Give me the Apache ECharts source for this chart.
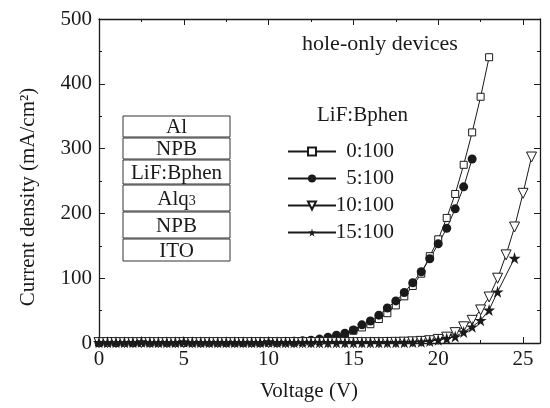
<!DOCTYPE html>
<html>
<head>
<meta charset="utf-8">
<script src="https://cdn.jsdelivr.net/npm/echarts@6/dist/echarts.min.js"></script>
<style>
html, body { margin: 0; padding: 0; background: #fff; }
#main { width: 550px; height: 408px; }
</style>
</head>
<body>
<div id="main"></div>
<script>
// voltage steps (V)
const voltage = [0, 0.5, 1, 1.5, 2, 2.5, 3, 3.5, 4, 4.5, 5, 5.5, 6, 6.5, 7, 7.5, 8, 8.5, 9, 9.5,
  10, 10.5, 11, 11.5, 12, 12.5, 13, 13.5, 14, 14.5, 15, 15.5, 16, 16.5, 17, 17.5, 18, 18.5, 19, 19.5,
  20, 20.5, 21, 21.5, 22, 22.5, 23, 23.5, 24, 24.5, 25, 25.5];

// current density (mA/cm2) per LiF:Bphen ratio
const j0 = [0.5, 0.5, 0.5, 0.5, 0.5, 0.5, 0.5, 0.5, 0.5, 0.5, 0.5, 0.5, 0.5, 0.5, 0.5, 0.5, 0.5, 0.5, 0.5, 0.5,
  0.6, 0.7, 0.9, 1.2, 1.6, 2.3, 3.3, 5, 8, 13, 19, 24, 29, 37, 46, 58, 72, 88, 107, 134,
  160, 193, 230, 275, 325, 380, 441];
const j5 = [1.2, 1, 1.2, 1, 1.1, 1, 1.2, 1, 1.1, 1, 1.2, 1.1, 1, 1.2, 1.1, 1, 1.2, 1.1, 1.2, 1.3,
  1.5, 1.8, 2.2, 2.7, 3.3, 4.3, 6, 9, 12, 15, 20, 28, 34, 43, 54, 65, 78, 93, 110, 130,
  153, 177, 207, 241, 284];
const j10 = [0.6, 0.6, 0.6, 0.6, 0.6, 0.6, 0.6, 0.6, 0.6, 0.6, 0.6, 0.6, 0.6, 0.6, 0.6, 0.6, 0.6, 0.6, 0.6, 0.6,
  0.6, 0.6, 0.6, 0.6, 0.6, 0.6, 0.6, 0.6, 0.6, 0.6, 0.6, 0.6, 0.6, 0.6, 0.8, 1, 1.3, 1.8, 2.5, 3.5,
  5.5, 9, 16, 25, 35, 51, 71, 100, 136, 179, 231, 287];
const j15 = [1, 1, 1, 1, 1, 2, 1, 1, 1, 1, 2, 1, 1, 1, 1, 1, 1, 1, 1, 1,
  2, 1, 1, 1, 1, 1, 1, 1, 1, 1, 1, 1, 1, 1, 1, 1, 1.2, 1.5, 2, 3,
  5, 7, 10, 17, 25, 35, 51, 79, null, 131];

const ratioNames = ['0:100', '5:100', '10:100', '15:100'];
const xTicks = { min: 0, max: 26, interval: 5 };
const yTicks = { min: 0, max: 500, interval: 100 };

const ink = '#1a1a1a';
const serif = 'Liberation Serif';
const starPath = 'path://M50,0 L61,35 L98,35 L68,57 L79,91 L50,70 L21,91 L32,57 L2,35 L39,35 Z';

const pairs = (ys) => ys.map((y, i) => [voltage[i], y]);

const myChart = echarts.init(document.getElementById('main'));

const frameAxis = (pos, t, labels) => ({
  type: 'value',
  position: pos,
  min: t.min,
  max: t.max,
  interval: t.interval,
  axisLine: { show: true, onZero: false, lineStyle: { color: ink, width: 1.3 } },
  axisTick: { show: true, inside: true, length: 6, lineStyle: { color: ink, width: 1 } },
  minorTick: { show: true, splitNumber: 2, length: 3, lineStyle: { color: ink, width: 1 } },
  splitLine: { show: false },
  axisLabel: labels
});

const tickLabel = {
  show: true,
  color: ink,
  fontFamily: serif,
  fontSize: 21,
  formatter: (v) => (v % 5 === 0 ? String(v) : '')
};

const baseSeries = {
  type: 'line',
  showAllSymbol: true,
  connectNulls: true,
  lineStyle: { color: ink, width: 1 },
  emphasis: { disabled: true }
};

const layers = ['Al', 'NPB', 'LiF:Bphen', '{a|Alq}{s|3}', 'NPB', 'ITO'];
const layerTops = [116, 138, 160, 185, 212, 239];
const layerBottoms = [137, 159, 184, 211, 238, 261];

const layerGraphics = [];
layers.forEach((name, i) => {
  layerGraphics.push({
    type: 'rect',
    shape: { x: 123, y: layerTops[i], width: 107, height: layerBottoms[i] - layerTops[i] },
    style: { fill: '#fff', stroke: '#333', lineWidth: 1 }
  });
  layerGraphics.push({
    type: 'text',
    x: 176.5,
    y: (layerTops[i] + layerBottoms[i]) / 2 + 1,
    style: {
      text: name,
      fill: ink,
      font: '21px "Liberation Serif"',
      align: 'center',
      verticalAlign: 'middle',
      rich: {
        a: { fontFamily: serif, fontSize: 21, fill: ink },
        s: { fontFamily: serif, fontSize: 14, fill: ink, padding: [5, 0, 0, 0] }
      }
    }
  });
});

const option = {
  backgroundColor: '#fff',
  animation: false,
  grid: { left: 99, right: 10, top: 19, bottom: 65 },
  xAxis: [
    frameAxis('bottom', xTicks, { ...tickLabel, margin: 6 }),
    frameAxis('top', xTicks, { show: false })
  ],
  yAxis: [
    frameAxis('left', yTicks, { ...tickLabel, margin: 7, formatter: '{value}' }),
    frameAxis('right', yTicks, { show: false })
  ],
  legend: {
    orient: 'vertical',
    left: 282,
    top: 136,
    itemWidth: 48,
    itemHeight: 10,
    itemGap: 6,
    data: ratioNames,
    formatter: (name) => '{r|' + name + '}',
    textStyle: {
      color: ink,
      rich: { r: { width: 53, align: 'right', fontFamily: serif, fontSize: 21, color: ink } }
    }
  },
  graphic: [
    {
      type: 'text', left: 302, top: 33,
      style: { text: 'hole-only devices', fill: ink, font: '22px "Liberation Serif"' }
    },
    {
      type: 'text', left: 317, top: 105,
      style: { text: 'LiF:Bphen', fill: ink, font: '21px "Liberation Serif"' }
    },
    {
      type: 'text', x: 309, y: 391,
      style: { text: 'Voltage (V)', fill: ink, font: '21px "Liberation Serif"', align: 'center', verticalAlign: 'middle' }
    },
    {
      type: 'text', x: 28, y: 197, rotation: Math.PI / 2,
      style: { text: 'Current density (mA/cm\u00B2)', fill: ink, font: '21px "Liberation Serif"', align: 'center', verticalAlign: 'middle' }
    },
    ...layerGraphics
  ],
  series: [
    {
      ...baseSeries,
      name: ratioNames[0],
      data: pairs(j0),
      symbol: 'rect',
      symbolSize: 7,
      itemStyle: { color: '#fff', borderColor: ink, borderWidth: 1 }
    },
    {
      ...baseSeries,
      name: ratioNames[1],
      data: pairs(j5),
      symbol: 'circle',
      symbolSize: 9,
      itemStyle: { color: ink, borderColor: ink, borderWidth: 0 }
    },
    {
      ...baseSeries,
      name: ratioNames[2],
      data: pairs(j10),
      symbol: 'triangle',
      symbolRotate: 180,
      symbolSize: 10,
      itemStyle: { color: '#fff', borderColor: ink, borderWidth: 1 }
    },
    {
      ...baseSeries,
      name: ratioNames[3],
      data: pairs(j15),
      symbol: starPath,
      symbolSize: 12,
      itemStyle: { color: ink, borderColor: ink, borderWidth: 0 }
    }
  ]
};

myChart.setOption(option);
</script>
</body>
</html>
